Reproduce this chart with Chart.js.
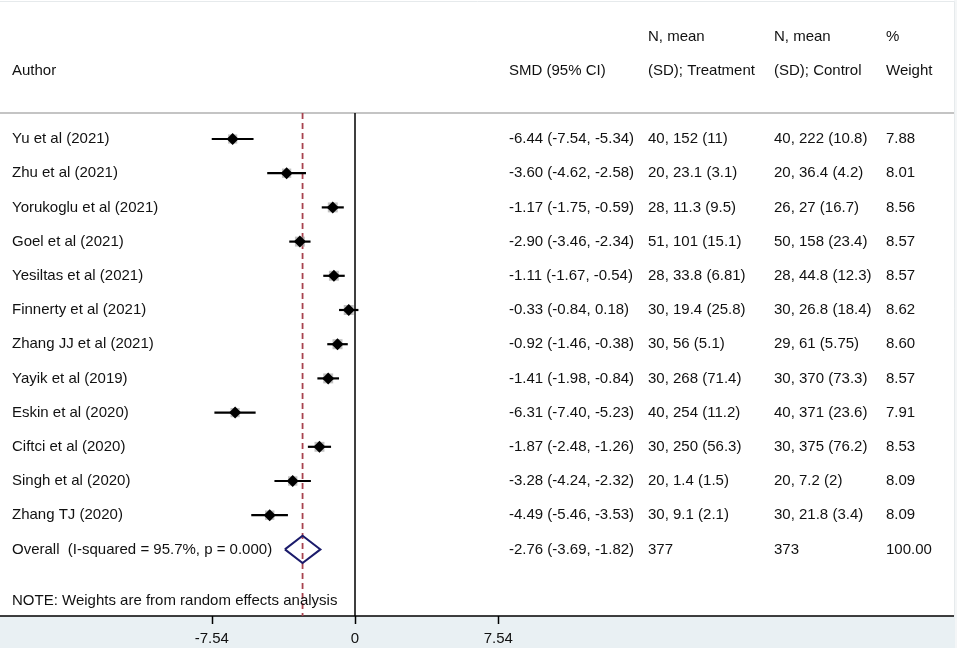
<!DOCTYPE html>
<html>
<head>
<meta charset="utf-8">
<title>Forest plot</title>
<script src="https://cdn.jsdelivr.net/npm/chart.js@4.4.1/dist/chart.umd.min.js"></script>
<style>
  html, body { margin: 0; padding: 0; background: #ffffff; }
  #wrap { width: 957px; height: 648px; position: relative; }
</style>
</head>
<body>
<div id="wrap"><canvas id="forest"></canvas></div>
<script>
// study data
var authors = [
  "Yu et al (2021)", "Zhu et al (2021)", "Yorukoglu et al (2021)", "Goel et al (2021)",
  "Yesiltas et al (2021)", "Finnerty et al (2021)", "Zhang JJ et al (2021)", "Yayik et al (2019)",
  "Eskin et al (2020)", "Ciftci et al (2020)", "Singh et al (2020)", "Zhang TJ (2020)"
];
var smd = [-6.44, -3.60, -1.17, -2.90, -1.11, -0.33, -0.92, -1.41, -6.31, -1.87, -3.28, -4.49];
var ciLow = [-7.54, -4.62, -1.75, -3.46, -1.67, -0.84, -1.46, -1.98, -7.40, -2.48, -4.24, -5.46];
var ciHigh = [-5.34, -2.58, -0.59, -2.34, -0.54, 0.18, -0.38, -0.84, -5.23, -1.26, -2.32, -3.53];
var treatment = [
  "40, 152 (11)", "20, 23.1 (3.1)", "28, 11.3 (9.5)", "51, 101 (15.1)", "28, 33.8 (6.81)", "30, 19.4 (25.8)",
  "30, 56 (5.1)", "30, 268 (71.4)", "40, 254 (11.2)", "30, 250 (56.3)", "20, 1.4 (1.5)", "30, 9.1 (2.1)"
];
var control = [
  "40, 222 (10.8)", "20, 36.4 (4.2)", "26, 27 (16.7)", "50, 158 (23.4)", "28, 44.8 (12.3)", "30, 26.8 (18.4)",
  "29, 61 (5.75)", "30, 370 (73.3)", "40, 371 (23.6)", "30, 375 (76.2)", "20, 7.2 (2)", "30, 21.8 (3.4)"
];
var weights = [7.88, 8.01, 8.56, 8.57, 8.57, 8.62, 8.60, 8.57, 7.91, 8.53, 8.09, 8.09];

var overallLabel = "Overall  (I-squared = 95.7%, p = 0.000)";
var overallSmd = -2.76;
var overallCi = [-3.69, -1.82];
var overallN = ["377", "373"];
var overallWeight = "100.00";

var tickValues = [-7.54, 0, 7.54];
var noteText = "NOTE: Weights are from random effects analysis";

// layout (in row units of the y scale)
var ROW_OVERALL = authors.length;
var ROW_NOTE = 13.5;
var ROW_TOP = -0.76;
var ROW_AXIS = 13.95;
var FONT = '15px "Liberation Sans", Arial, sans-serif';
var TEXT = "#111111";

function fmt(v) { return v.toFixed(2); }

var datasets = [];

// zero line and overall dashed line (drawn first, lowest)
datasets.push({
  type: "line", order: 4, data: [{x: 0, y: ROW_TOP}, {x: 0, y: ROW_AXIS}],
  borderColor: "#000000", borderWidth: 1.5, pointRadius: 0
});
datasets.push({
  type: "line", order: 4, data: [{x: overallSmd, y: ROW_TOP}, {x: overallSmd, y: ROW_AXIS}],
  borderColor: "#a8434f", borderWidth: 1.8, borderDash: [6, 4], pointRadius: 0
});

// weight boxes
datasets.push({
  type: "scatter", order: 3,
  data: smd.map(function (v, i) { return {x: v, y: i}; }),
  pointStyle: "rect",
  pointRadius: weights.map(function (w) { return w * 0.82; }),
  backgroundColor: "rgba(160,160,160,0.65)",
  borderWidth: 0
});

// confidence interval lines
for (var i = 0; i < authors.length; i++) {
  datasets.push({
    type: "line", order: 2, data: [{x: ciLow[i], y: i}, {x: ciHigh[i], y: i}],
    borderColor: "#000000", borderWidth: 2.2, pointRadius: 0
  });
}

// point estimates
datasets.push({
  type: "scatter", order: 1,
  data: smd.map(function (v, i) { return {x: v, y: i}; }),
  pointStyle: "rectRot", pointRadius: 6,
  backgroundColor: "#000000", borderColor: "#000000", borderWidth: 0
});

// overall diamond
datasets.push({
  type: "line", order: 1,
  data: [
    {x: overallCi[0], y: ROW_OVERALL}, {x: overallSmd, y: ROW_OVERALL - 0.4},
    {x: overallCi[1], y: ROW_OVERALL}, {x: overallSmd, y: ROW_OVERALL + 0.4},
    {x: overallCi[0], y: ROW_OVERALL}
  ],
  borderColor: "#1b1b6b", borderWidth: 2, pointRadius: 0, tension: 0
});

var decor = {
  id: "decor",
  beforeDatasetsDraw: function (chart) {
    var ctx = chart.ctx, xs = chart.scales.x, ys = chart.scales.y;
    var yAxis = ys.getPixelForValue(ROW_AXIS);
    var yTop = ys.getPixelForValue(ROW_TOP);
    ctx.save();
    // frame
    ctx.fillStyle = "#f4f6f7";
    ctx.fillRect(954, 0, 3, 648);
    ctx.strokeStyle = "#e6eaec";
    ctx.lineWidth = 1;
    ctx.beginPath();
    ctx.moveTo(0, 1.5); ctx.lineTo(954.5, 1.5); ctx.lineTo(954.5, yAxis);
    ctx.stroke();
    // band under axis
    ctx.fillStyle = "#e9f0f3";
    ctx.fillRect(0, yAxis, 955, 648 - yAxis);
    // header separator
    ctx.strokeStyle = "#c4c4c4";
    ctx.lineWidth = 2;
    ctx.beginPath();
    ctx.moveTo(0, yTop); ctx.lineTo(954, yTop);
    ctx.stroke();
    // axis line and ticks
    ctx.strokeStyle = "#000000";
    ctx.lineWidth = 1.5;
    ctx.beginPath();
    ctx.moveTo(0, yAxis); ctx.lineTo(954, yAxis);
    tickValues.forEach(function (t) {
      var px = Math.round(xs.getPixelForValue(t)) + 0.5;
      ctx.moveTo(px, yAxis); ctx.lineTo(px, yAxis + 8);
    });
    ctx.stroke();
    ctx.restore();
  },
  afterDraw: function (chart) {
    var ctx = chart.ctx, xs = chart.scales.x, ys = chart.scales.y;
    ctx.save();
    ctx.font = FONT;
    ctx.fillStyle = TEXT;
    ctx.textBaseline = "middle";
    ctx.textAlign = "left";
    var colAuthor = 12, colSmd = 509, colT = 648, colC = 774, colW = 886;
    var h1 = ys.getPixelForValue(-3), h2 = ys.getPixelForValue(-2);
    ctx.fillText("Author", colAuthor, h2);
    ctx.fillText("SMD (95% CI)", colSmd, h2);
    ctx.fillText("N, mean", colT, h1);
    ctx.fillText("(SD); Treatment", colT, h2);
    ctx.fillText("N, mean", colC, h1);
    ctx.fillText("(SD); Control", colC, h2);
    ctx.fillText("%", colW, h1);
    ctx.fillText("Weight", colW, h2);
    for (var i = 0; i < authors.length; i++) {
      var y = ys.getPixelForValue(i);
      ctx.fillText(authors[i], colAuthor, y);
      ctx.fillText(fmt(smd[i]) + " (" + fmt(ciLow[i]) + ", " + fmt(ciHigh[i]) + ")", colSmd, y);
      ctx.fillText(treatment[i], colT, y);
      ctx.fillText(control[i], colC, y);
      ctx.fillText(fmt(weights[i]), colW, y);
    }
    var yo = ys.getPixelForValue(ROW_OVERALL);
    ctx.fillText(overallLabel, colAuthor, yo);
    ctx.fillText(fmt(overallSmd) + " (" + fmt(overallCi[0]) + ", " + fmt(overallCi[1]) + ")", colSmd, yo);
    ctx.fillText(overallN[0], colT, yo);
    ctx.fillText(overallN[1], colC, yo);
    ctx.fillText(overallWeight, colW, yo);
    ctx.fillText(noteText, colAuthor, ys.getPixelForValue(ROW_NOTE));
    // tick labels
    ctx.textAlign = "center";
    var yLab = ys.getPixelForValue(ROW_AXIS) + 23;
    tickValues.forEach(function (t) {
      ctx.fillText(t === 0 ? "0" : fmt(t), xs.getPixelForValue(t), yLab);
    });
    ctx.restore();
  }
};

var ctx = document.getElementById("forest").getContext("2d");
var forest = new Chart(ctx, {
  type: "scatter",
  data: { datasets: datasets },
  options: {
    responsive: true,
    maintainAspectRatio: false,
    animation: false,
    layout: { padding: 0, autoPadding: false },
    plugins: { legend: { display: false }, tooltip: { enabled: false } },
    scales: {
      x: { type: "linear", min: -355 / 19, max: 602 / 19, display: false },
      y: { type: "linear", min: -139 / 34.2, max: 509 / 34.2, reverse: true, display: false }
    }
  },
  plugins: [decor]
});
</script>
</body>
</html>
